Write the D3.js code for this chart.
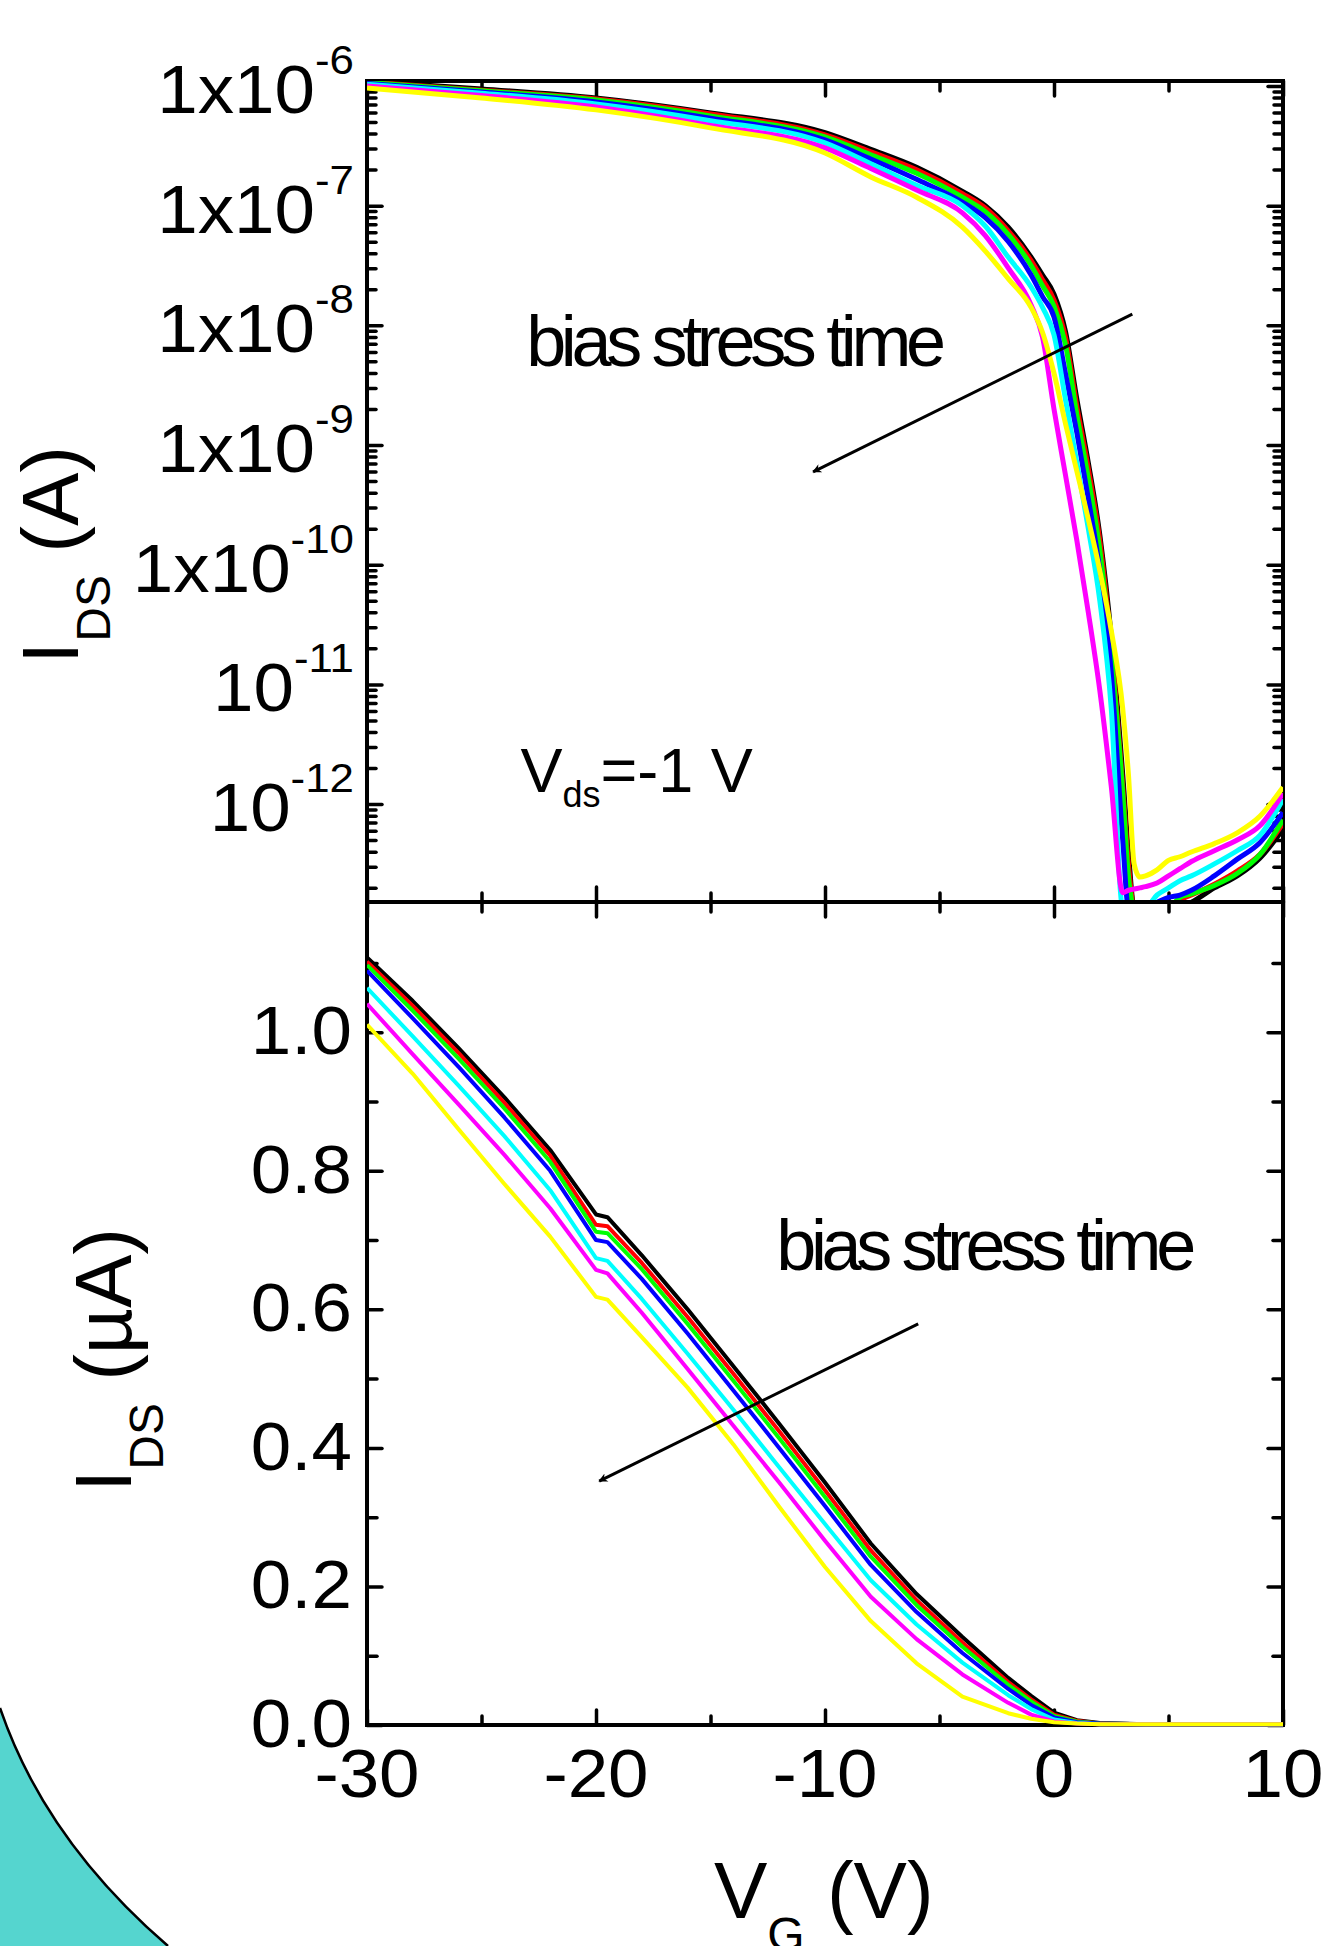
<!DOCTYPE html>
<html>
<head>
<meta charset="utf-8">
<script src="https://cdn.jsdelivr.net/npm/d3@7"></script>
<style>
  html, body { margin: 0; padding: 0; background: #fff; }
  svg { display: block; font-family: "Liberation Sans", Arial, sans-serif; white-space: pre; }
</style>
</head>
<body>
<svg id="chart" width="1329" height="1946"></svg>
<script>
// ---- data ----
// top panel: log10(I_DS / A) versus V_G (V); F = below the bottom of the axis
const F = -12.86;
const vgTop = [-30, -25, -20, -15, -10, -8, -6, -4, -3, -2, -1, -0.5, 0, 0.5, 1, 1.5, 2, 2.5, 3, 3.25, 3.5, 3.75, 4, 4.5, 5, 5.5, 6, 7, 8, 9, 10];
const logBlack   = [-5.96, -6.025, -6.10, -6.225, -6.39, -6.53, -6.68, -6.88, -7.00, -7.18, -7.43, -7.58, -7.74, -8.05, -8.62, -9.15, -9.75, -10.60, -11.75, -12.40, F, F, F, F, F, F, -12.82, -12.70, -12.60, -12.45, -12.21];
const logRed     = [-5.967, -6.035, -6.109, -6.235, -6.409, -6.55, -6.70, -6.90, -7.02, -7.21, -7.46, -7.62, -7.79, -8.10, -8.68, -9.20, -9.80, -10.68, -11.85, -12.50, F, F, F, F, F, -12.80, -12.76, -12.67, -12.56, -12.42, -12.16];
const logGreen   = [-5.971, -6.04, -6.117, -6.25, -6.426, -6.575, -6.73, -6.93, -7.05, -7.24, -7.50, -7.67, -7.84, -8.16, -8.75, -9.28, -9.88, -10.75, -11.90, -12.60, F, F, F, F, F, -12.78, -12.75, -12.68, -12.58, -12.42, -12.13];
const logBlue    = [-5.979, -6.05, -6.134, -6.27, -6.451, -6.61, -6.78, -6.97, -7.10, -7.30, -7.58, -7.76, -7.93, -8.40, -8.90, -9.45, -10.05, -10.90, -12.30, F, F, F, F, -12.82, -12.78, -12.76, -12.72, -12.60, -12.46, -12.32, -12.07];
const logCyan    = [-5.987, -6.06, -6.15, -6.29, -6.476, -6.65, -6.83, -7.00, -7.17, -7.43, -7.68, -7.85, -8.08, -8.62, -9.15, -9.70, -10.30, -11.20, F, F, F, F, F, -12.76, -12.70, -12.64, -12.60, -12.50, -12.39, -12.26, -11.96];
const logMagenta = [-6.00, -6.08, -6.175, -6.33, -6.518, -6.69, -6.87, -7.06, -7.25, -7.52, -7.83, -8.10, -8.70, -9.25, -9.80, -10.40, -11.05, -11.85, -12.74, -12.72, -12.71, -12.70, -12.69, -12.66, -12.60, -12.54, -12.48, -12.39, -12.30, -12.18, -11.91];
const logYellow  = [-6.017, -6.10, -6.20, -6.35, -6.56, -6.76, -6.93, -7.18, -7.38, -7.61, -7.85, -8.06, -8.40, -8.82, -9.22, -9.62, -10.05, -10.55, -11.20, -11.75, -12.50, -12.61, -12.60, -12.55, -12.47, -12.44, -12.40, -12.33, -12.24, -12.10, -11.86];

// bottom panel: I_DS (uA) versus V_G (V)
const vgBottom = [-30, -28, -26, -24, -22, -20, -19.5, -18, -16, -14, -12, -10, -8, -6, -4, -2, -1, 0, 1, 2, 4, 6, 8, 10];
const linBlack   = [1.108, 1.045, 0.977, 0.906, 0.830, 0.737, 0.733, 0.678, 0.600, 0.518, 0.435, 0.350, 0.262, 0.189, 0.127, 0.068, 0.042, 0.018, 0.007, 0.003, 0.001, 0.001, 0.001, 0.001];
const linRed     = [1.102, 1.038, 0.970, 0.898, 0.822, 0.722, 0.720, 0.667, 0.589, 0.507, 0.424, 0.339, 0.252, 0.180, 0.119, 0.062, 0.037, 0.015, 0.006, 0.002, 0.001, 0.001, 0.001, 0.001];
const linGreen   = [1.097, 1.031, 0.962, 0.890, 0.813, 0.712, 0.710, 0.658, 0.579, 0.497, 0.414, 0.329, 0.243, 0.173, 0.113, 0.058, 0.034, 0.013, 0.005, 0.002, 0.001, 0.001, 0.001, 0.001];
const linBlue    = [1.089, 1.020, 0.950, 0.877, 0.800, 0.700, 0.697, 0.644, 0.565, 0.483, 0.400, 0.316, 0.231, 0.163, 0.104, 0.052, 0.029, 0.011, 0.004, 0.002, 0.001, 0.001, 0.001, 0.001];
const linCyan    = [1.064, 0.994, 0.923, 0.850, 0.772, 0.674, 0.670, 0.615, 0.536, 0.455, 0.372, 0.290, 0.209, 0.145, 0.090, 0.043, 0.023, 0.008, 0.003, 0.001, 0.001, 0.001, 0.001, 0.001];
const linMagenta = [1.041, 0.968, 0.896, 0.823, 0.746, 0.657, 0.652, 0.595, 0.514, 0.432, 0.350, 0.266, 0.185, 0.124, 0.073, 0.032, 0.015, 0.005, 0.002, 0.001, 0.001, 0.001, 0.001, 0.001];
const linYellow  = [1.011, 0.940, 0.860, 0.781, 0.705, 0.618, 0.614, 0.560, 0.487, 0.405, 0.315, 0.228, 0.150, 0.089, 0.041, 0.017, 0.009, 0.004, 0.002, 0.001, 0.001, 0.001, 0.001, 0.001];

const seriesColors = ["#000000", "#ff0000", "#00ff00", "#0000ff", "#00ffff", "#ff00ff", "#ffff00"];
const topSeries = [logBlack, logRed, logGreen, logBlue, logCyan, logMagenta, logYellow];
const bottomSeries = [linBlack, linRed, linGreen, linBlue, linCyan, linMagenta, linYellow];

// ticks and labels
const xMajor = [-30, -20, -10, 0, 10];
const xMinor = [-25, -15, -5, 5];
const xTickLabels = ["-30", "-20", "-10", "0", "10"];
const topMajor = [1e-6, 1e-7, 1e-8, 1e-9, 1e-10, 1e-11, 1e-12];
const topLabelBase = ["1x10", "1x10", "1x10", "1x10", "1x10", "10", "10"];
const topLabelExp = ["-6", "-7", "-8", "-9", "-10", "-11", "-12"];
const bottomMajor = [0, 0.2, 0.4, 0.6, 0.8, 1.0];
const bottomMinor = [0.1, 0.3, 0.5, 0.7, 0.9, 1.1];
const bottomTickLabels = ["0.0", "0.2", "0.4", "0.6", "0.8", "1.0"];

// ---- layout ----
const pL = 367, pR = 1283, pT = 81, pM = 902, pB = 1725;
const labelStretch = 1.07;   // tick digits in the original are a bit wider than Liberation Sans

const svg = d3.select("#chart");

const x = d3.scaleLinear().domain([-30, 10]).range([pL, pR]);
const yTop = d3.scaleLog().domain([1.52e-13, 1.1e-6]).range([pM, pT]);
const yBot = d3.scaleLinear().domain([0, 1.188]).range([pB, pM]);

// teal decoration in the lower left corner
svg.append("path")
    .attr("d", "M0,1708 Q45,1840 168,1946 L0,1946 Z")
    .attr("fill", "#55d5cf");
svg.append("path")
    .attr("d", "M0,1708 Q45,1840 168,1946")
    .attr("fill", "none")
    .attr("stroke", "#000")
    .attr("stroke-width", 2.5);

// tick helper
function ticks(axis, values, size, tx, ty) {
    const g = svg.append("g")
        .attr("transform", `translate(${tx},${ty})`)
        .call(axis.tickValues(values).tickSize(size).tickFormat(""));
    g.select(".domain").remove();
    g.selectAll("line")
        .attr("stroke", "#000")
        .attr("stroke-width", 3.5)
        .attr("stroke-linecap", "round");
}

const logMinor = yTop.ticks().filter(v => !topMajor.some(m => Math.abs(m - v) / m < 1e-6));

// top panel ticks (all pointing inward)
ticks(d3.axisLeft(yTop), topMajor, -15, pL, 0);
ticks(d3.axisLeft(yTop), logMinor, -9, pL, 0);
ticks(d3.axisRight(yTop), topMajor, -15, pR, 0);
ticks(d3.axisRight(yTop), logMinor, -9, pR, 0);
ticks(d3.axisTop(x), xMajor, -15, 0, pT);
ticks(d3.axisTop(x), xMinor, -10, 0, pT);
ticks(d3.axisBottom(x), xMajor, -15, 0, pM);
ticks(d3.axisBottom(x), xMinor, -9, 0, pM);

// bottom panel ticks
ticks(d3.axisTop(x), xMajor, -15, 0, pM);
ticks(d3.axisTop(x), xMinor, -10, 0, pM);
ticks(d3.axisBottom(x), xMajor, -15, 0, pB);
ticks(d3.axisBottom(x), xMinor, -9, 0, pB);
ticks(d3.axisLeft(yBot), bottomMajor, -15, pL, 0);
ticks(d3.axisLeft(yBot), bottomMinor, -10, pL, 0);
ticks(d3.axisRight(yBot), bottomMajor, -15, pR, 0);
ticks(d3.axisRight(yBot), bottomMinor, -10, pR, 0);

// frames
svg.append("rect")
    .attr("x", pL).attr("y", pT)
    .attr("width", pR - pL).attr("height", pB - pT)
    .attr("fill", "none").attr("stroke", "#000").attr("stroke-width", 4);
svg.append("line")
    .attr("x1", pL).attr("x2", pR)
    .attr("y1", pM).attr("y2", pM)
    .attr("stroke", "#000").attr("stroke-width", 4);

// clip regions
const defs = svg.append("defs");
defs.append("clipPath").attr("id", "clipTop")
    .append("rect").attr("x", pL).attr("y", pT)
    .attr("width", pR - pL).attr("height", pM - pT - 2);
defs.append("clipPath").attr("id", "clipBot")
    .append("rect").attr("x", pL).attr("y", pM + 2)
    .attr("width", pR - pL + 2).attr("height", pB - pM);

defs.append("marker")
    .attr("id", "arrow")
    .attr("viewBox", "0 0 10 10")
    .attr("refX", 9).attr("refY", 5)
    .attr("markerUnits", "userSpaceOnUse")
    .attr("markerWidth", 16).attr("markerHeight", 9)
    .attr("orient", "auto")
    .append("path")
    .attr("d", "M0,0 L10,5 L0,10 L3,5 Z")
    .attr("fill", "#000");

// curves
const lineTop = d3.line()
    .x((d, i) => x(vgTop[i]))
    .y(d => yTop(Math.pow(10, d)))
    .curve(d3.curveMonotoneX);
const lineBot = d3.line()
    .x((d, i) => x(vgBottom[i]))
    .y(d => yBot(d));

svg.append("g").attr("clip-path", "url(#clipTop)")
    .selectAll("path")
    .data(topSeries)
    .enter()
    .append("path")
    .attr("d", lineTop)
    .attr("fill", "none")
    .attr("stroke", (d, i) => seriesColors[i])
    .attr("stroke-width", 5)
    .attr("stroke-linejoin", "round");

svg.append("g").attr("clip-path", "url(#clipBot)")
    .selectAll("path")
    .data(bottomSeries)
    .enter()
    .append("path")
    .attr("d", lineBot)
    .attr("fill", "none")
    .attr("stroke", (d, i) => seriesColors[i])
    .attr("stroke-width", 4)
    .attr("stroke-linejoin", "round");

// tick labels
const topLabels = svg.append("g")
    .selectAll("g")
    .data(topMajor)
    .enter()
    .append("g")
    .attr("transform", d => `translate(354,${yTop(d) + 27}) scale(${labelStretch},1)`)
    .append("text")
    .attr("text-anchor", "end")
    .attr("font-size", 68);
topLabels.append("tspan").text((d, i) => topLabelBase[i]);
topLabels.append("tspan")
    .attr("font-size", 41)
    .attr("dy", -39)
    .text((d, i) => topLabelExp[i]);

svg.append("g")
    .selectAll("g")
    .data(bottomMajor)
    .enter()
    .append("g")
    .attr("transform", d => `translate(352,${yBot(d) + 22}) scale(${labelStretch},1)`)
    .append("text")
    .attr("text-anchor", "end")
    .attr("font-size", 68)
    .text((d, i) => bottomTickLabels[i]);

svg.append("g")
    .selectAll("g")
    .data(xMajor)
    .enter()
    .append("g")
    .attr("transform", d => `translate(${x(d)},${pB + 72}) scale(${labelStretch},1)`)
    .append("text")
    .attr("text-anchor", "middle")
    .attr("font-size", 68)
    .text((d, i) => xTickLabels[i]);

// axis titles
function subTitle(sel, main, sub, rest, shift) {
    sel.append("tspan").text(main);
    sel.append("tspan").attr("font-size", 48).attr("dy", shift).text(sub);
    sel.append("tspan").attr("dy", -shift).text(rest);
}
svg.append("text")
    .attr("transform", "translate(78,555) rotate(-90)")
    .attr("text-anchor", "middle")
    .attr("font-size", 80)
    .call(subTitle, "I", "DS", " (A)", 32);
svg.append("text")
    .attr("transform", "translate(131,1360) rotate(-90)")
    .attr("text-anchor", "middle")
    .attr("font-size", 80)
    .call(subTitle, "I", "DS", " (\u00b5A)", 32);
svg.append("text")
    .attr("x", 714).attr("y", 1918)
    .attr("font-size", 80)
    .call(subTitle, "V", "G", " (V)", 33);

// annotations, placed in data units
const topNote = { vg: -23.05, i: 4.6e-9 };
const topArrow = { vg1: 3.42, i1: 1.24e-8, vg2: -10.52, i2: 5.96e-10 };
const vdsNote = { vg: -23.3, i: 1.26e-12 };
const botNote = { vg: -12.13, i: 0.657 };
const botArrow = { vg1: -5.93, i1: 0.579, vg2: -19.86, i2: 0.352 };

svg.append("text")
    .attr("x", x(topNote.vg)).attr("y", yTop(topNote.i))
    .attr("font-size", 72)
    .attr("textLength", 420).attr("lengthAdjust", "spacing")
    .text("bias stress time");
svg.append("line")
    .attr("x1", x(topArrow.vg1)).attr("y1", yTop(topArrow.i1))
    .attr("x2", x(topArrow.vg2)).attr("y2", yTop(topArrow.i2))
    .attr("stroke", "#000").attr("stroke-width", 3)
    .attr("marker-end", "url(#arrow)");

const vds = svg.append("text")
    .attr("x", x(vdsNote.vg)).attr("y", yTop(vdsNote.i))
    .attr("font-size", 63);
vds.append("tspan").text("V");
vds.append("tspan").attr("font-size", 36).attr("dy", 15).text("ds");
vds.append("tspan").attr("dy", -15).text("=-1 V");

svg.append("text")
    .attr("x", x(botNote.vg)).attr("y", yBot(botNote.i))
    .attr("font-size", 72)
    .attr("textLength", 420).attr("lengthAdjust", "spacing")
    .text("bias stress time");
svg.append("line")
    .attr("x1", x(botArrow.vg1)).attr("y1", yBot(botArrow.i1))
    .attr("x2", x(botArrow.vg2)).attr("y2", yBot(botArrow.i2))
    .attr("stroke", "#000").attr("stroke-width", 3)
    .attr("marker-end", "url(#arrow)");
</script>
</body>
</html>
